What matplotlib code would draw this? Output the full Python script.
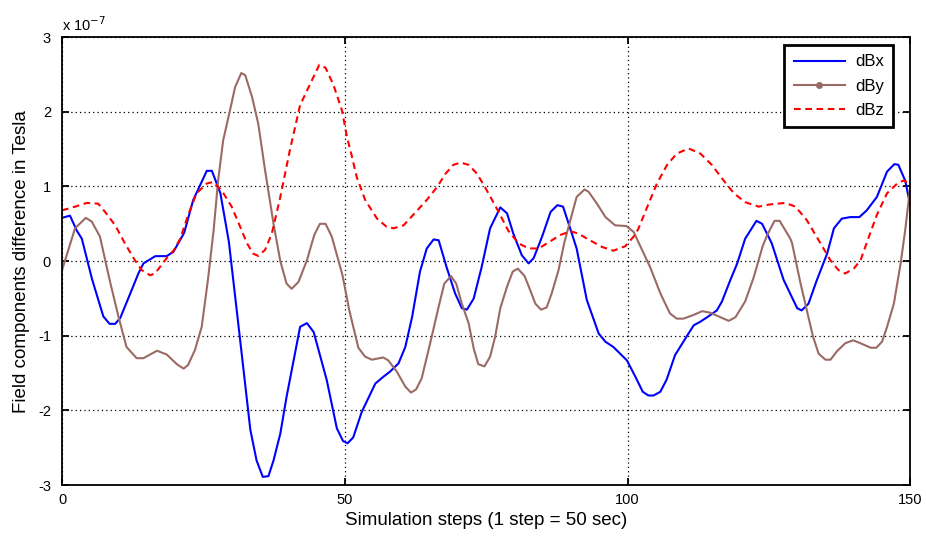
"""
Field components difference (dBx, dBy, dBz) over simulation steps.
Outputs: out.png
"""

import matplotlib
import matplotlib.pyplot as plt

matplotlib.rcParams.update({
    "font.family": ["Liberation Sans", "DejaVu Sans"],
    "font.size": 10,
    "axes.linewidth": 1.3,
    "xtick.direction": "in",
    "ytick.direction": "in",
    "xtick.top": True,
    "ytick.right": True,
    "xtick.major.size": 5,
    "ytick.major.size": 5,
    "xtick.major.width": 1.3,
    "ytick.major.width": 1.3,
    "xtick.major.pad": 6,
    "ytick.major.pad": 8,
})

# values are in units of 1e-7 Tesla
bx_x = [0, 1.4, 2.6, 3.5, 5.3, 7.3, 8.4, 9.4, 10.3, 12.3, 13.5, 14.4, 16.5, 18.5,
        19.7, 21.6, 23.2, 25.6, 26.5, 28, 29.5, 31.5, 33.3, 34.4, 35.5, 36.5,
        37.4, 38.6, 39.7, 42.1, 43.3, 44.5, 46.8, 48.6, 49.7, 50.5, 51.5, 53.0,
        55.4, 56.8, 58.0, 59.5, 60.7, 61.9, 63.3, 64.5, 65.7, 66.6, 68.0, 69.5,
        70.7, 71.6, 72.8, 74.2, 75.7, 77.5, 78.7, 79.8, 81.3, 82.5, 83.4, 84.9,
        86.4, 87.6, 88.6, 89.6, 91.0, 92.8, 94.9, 96.1, 97.5, 98.7, 99.9, 101.4,
        102.7, 103.7, 104.6, 105.8, 106.9, 108.4, 110.2, 111.7, 112.9, 114.3,
        115.8, 116.7, 118.2, 119.4, 120.8, 122.8, 123.8, 125.5, 127.6, 130.0,
        130.8, 132.0, 133.5, 135.3, 136.5, 137.9, 139.4, 141.0, 142.3, 144.1,
        145.9, 147.2, 147.9, 149.1, 150]
bx_y = [0.58, 0.61, 0.41, 0.30, -0.24, -0.74, -0.84, -0.84, -0.76, -0.39, -0.165,
        -0.03, 0.067, 0.067, 0.125, 0.38, 0.82, 1.21, 1.21, 0.91, 0.26, -1.06,
        -2.26, -2.67, -2.89, -2.88, -2.67, -2.31, -1.82, -0.88, -0.83, -0.95,
        -1.59, -2.24, -2.41, -2.44, -2.36, -2.02, -1.64, -1.55, -1.48, -1.37,
        -1.15, -0.75, -0.14, 0.17, 0.29, 0.28, -0.08, -0.43, -0.63, -0.65, -0.50,
        -0.08, 0.44, 0.72, 0.64, 0.37, 0.08, -0.03, 0.04, 0.33, 0.66, 0.75, 0.73,
        0.50, 0.17, -0.52, -0.97, -1.08, -1.15, -1.24, -1.33, -1.55, -1.75,
        -1.80, -1.80, -1.75, -1.59, -1.26, -1.04, -0.86, -0.81, -0.74, -0.66,
        -0.54, -0.25, -0.03, 0.30, 0.54, 0.50, 0.24, -0.25, -0.63, -0.66, -0.57,
        -0.25, 0.10, 0.44, 0.57, 0.59, 0.59, 0.68, 0.86, 1.20, 1.30, 1.29, 1.08,
        0.75]

by_x = [0, 2.3, 4.2, 5.25, 6.7, 8.5, 10.0, 11.4, 13.2, 14.4, 16.8, 18.5, 20.3,
        21.5, 22.3, 23.5, 24.7, 25.8, 26.8, 27.6, 28.5, 29.7, 30.6, 31.7, 32.4,
        33.6, 34.7, 35.9, 37.4, 38.6, 39.7, 40.6, 41.8, 43.3, 44.6, 45.6, 46.6,
        47.7, 49.6, 50.8, 52.4, 53.6, 54.8, 56.8, 57.7, 59.2, 60.7, 61.7, 62.6,
        63.6, 65.1, 66.6, 67.6, 68.8, 69.7, 70.7, 71.9, 72.8, 73.6, 74.7, 75.7,
        76.6, 77.5, 78.7, 79.7, 80.6, 81.8, 82.8, 83.7, 84.7, 85.7, 86.6, 87.8,
        88.8, 89.4, 91.0, 92.4, 93.1, 94.6, 96.1, 97.8, 99.8, 101.1, 102.2,
        104.0, 105.8, 107.5, 108.7, 109.9, 111.7, 113.2, 114.6, 116.4, 117.9,
        119.1, 120.8, 122.3, 123.9, 124.7, 126.0, 126.9, 128.8, 129.1, 130.6,
        132.8, 133.8, 135.0, 135.9, 137.0, 138.5, 139.9, 141.2, 143.0, 144.0,
        145.0, 145.9, 147.1, 148.3, 149.1, 150]
by_y = [-0.12, 0.44, 0.58, 0.53, 0.33, -0.28, -0.75, -1.15, -1.30, -1.30, -1.20,
        -1.25, -1.38, -1.44, -1.39, -1.19, -0.88, -0.25, 0.41, 1.08, 1.62, 2.02,
        2.33, 2.52, 2.49, 2.20, 1.84, 1.22, 0.50, 0.0, -0.30, -0.37, -0.28, 0.01,
        0.35, 0.50, 0.50, 0.33, -0.19, -0.66, -1.16, -1.28, -1.32, -1.29, -1.33,
        -1.48, -1.68, -1.76, -1.72, -1.57, -1.10, -0.61, -0.30, -0.20, -0.30,
        -0.57, -0.83, -1.17, -1.38, -1.41, -1.28, -1.01, -0.63, -0.34, -0.14,
        -0.10, -0.20, -0.39, -0.57, -0.65, -0.62, -0.43, -0.12, 0.24, 0.41, 0.86,
        0.96, 0.93, 0.77, 0.59, 0.48, 0.47, 0.39, 0.21, -0.08, -0.43, -0.70,
        -0.77, -0.77, -0.72, -0.67, -0.69, -0.75, -0.80, -0.75, -0.54, -0.22,
        0.20, 0.35, 0.54, 0.54, 0.30, 0.24, -0.30, -1.01, -1.24, -1.32, -1.32,
        -1.21, -1.10, -1.06, -1.10, -1.16, -1.16, -1.08, -0.88, -0.57, -0.03,
        0.41, 1.0]

bz_x = [0, 2.3, 4.4, 6.4, 7.6, 9.4, 11.1, 12.9, 14.1, 15.6, 16.5, 17.3, 18.5,
        19.7, 20.9, 22.3, 23.8, 25.6, 26.7, 28.2, 30.0, 31.5, 32.7, 33.8, 34.7,
        35.9, 37.1, 38.6, 40.3, 42.1, 43.6, 45.5, 46.6, 48.0, 49.5, 50.4, 51.2,
        52.1, 53.6, 55.7, 57.4, 58.6, 60.4, 62.1, 64.5, 66.3, 67.8, 69.2, 70.5,
        71.9, 73.4, 75.1, 77.2, 78.9, 80.7, 82.5, 84.3, 86.0, 88.1, 89.9, 91.3,
        93.1, 95.5, 97.5, 99.6, 101.1, 101.9, 103.4, 105.2, 107.0, 108.7, 110.8,
        112.9, 114.9, 117.0, 118.8, 120.8, 123.2, 125.2, 127.9, 129.7, 131.7,
        133.8, 135.9, 137.3, 138.5, 140.0, 141.2, 142.7, 144.1, 145.9, 147.7,
        148.8, 150]
bz_y = [0.68, 0.73, 0.78, 0.77, 0.66, 0.48, 0.24, 0.01, -0.12, -0.19, -0.16,
        -0.08, 0.04, 0.14, 0.30, 0.62, 0.91, 1.04, 1.06, 0.95, 0.73, 0.46, 0.24,
        0.10, 0.07, 0.15, 0.37, 0.86, 1.49, 2.09, 2.33, 2.63, 2.59, 2.36, 2.02,
        1.66, 1.42, 1.13, 0.82, 0.57, 0.46, 0.44, 0.48, 0.62, 0.82, 0.99, 1.17,
        1.29, 1.32, 1.29, 1.17, 0.95, 0.66, 0.41, 0.24, 0.17, 0.17, 0.25, 0.35,
        0.40, 0.37, 0.29, 0.19, 0.14, 0.20, 0.33, 0.43, 0.71, 1.04, 1.29, 1.44,
        1.51, 1.44, 1.29, 1.08, 0.91, 0.79, 0.73, 0.76, 0.78, 0.73, 0.55, 0.28,
        0.01, -0.12, -0.165, -0.10, 0.01, 0.33, 0.62, 0.91, 1.04, 1.08, 1.04]

fig = plt.figure(figsize=(9.26, 5.39), dpi=100)
ax = fig.add_axes([0.067, 0.1, 0.916, 0.831])

ax.plot(bx_x, bx_y, color="#0000ff", lw=1.5, label="dBx")
ax.plot(by_x, by_y, color="#9b6a64", lw=1.5, label="dBy",
        marker="o", markersize=4, markevery=[])
ax.plot(bz_x, bz_y, color="#ff0000", lw=1.5, ls=(0, (3.2, 2.2)), label="dBz")

ax.set_xlim(0, 150)
ax.set_ylim(-3, 3)
ax.set_xticks([0, 50, 100, 150])
ax.set_yticks([-3, -2, -1, 0, 1, 2, 3])
ax.set_yticklabels(["-3", "-2", "-1", "0", "1", "2", "3"])
ax.grid(True, color="black", linestyle=(0, (1, 2.5)), linewidth=0.9)
ax.tick_params(labelsize=10.5)

ax.text(0.0, 1.008, r"x 10$^{-7}$", transform=ax.transAxes,
        ha="left", va="bottom", fontsize=10.5)

ax.set_xlabel("Simulation steps (1 step = 50 sec)", fontsize=13.5, labelpad=3)
ax.set_ylabel("Field components difference in Tesla", fontsize=13.5, labelpad=6)

leg = ax.legend(loc="upper right", bbox_to_anchor=(0.98, 0.982),
                borderaxespad=0, fancybox=False, framealpha=1,
                edgecolor="black", fontsize=12, handlelength=3.1,
                labelspacing=0.55, borderpad=0.55, handletextpad=0.6,
                numpoints=1)
leg.get_frame().set_linewidth(2.0)
# marker only in the middle of the dBy legend handle
leg.legend_handles[1].set_markevery([1])
for h in leg.legend_handles:
    h.set_linewidth(1.5)

fig.savefig("out.png", dpi=100)
